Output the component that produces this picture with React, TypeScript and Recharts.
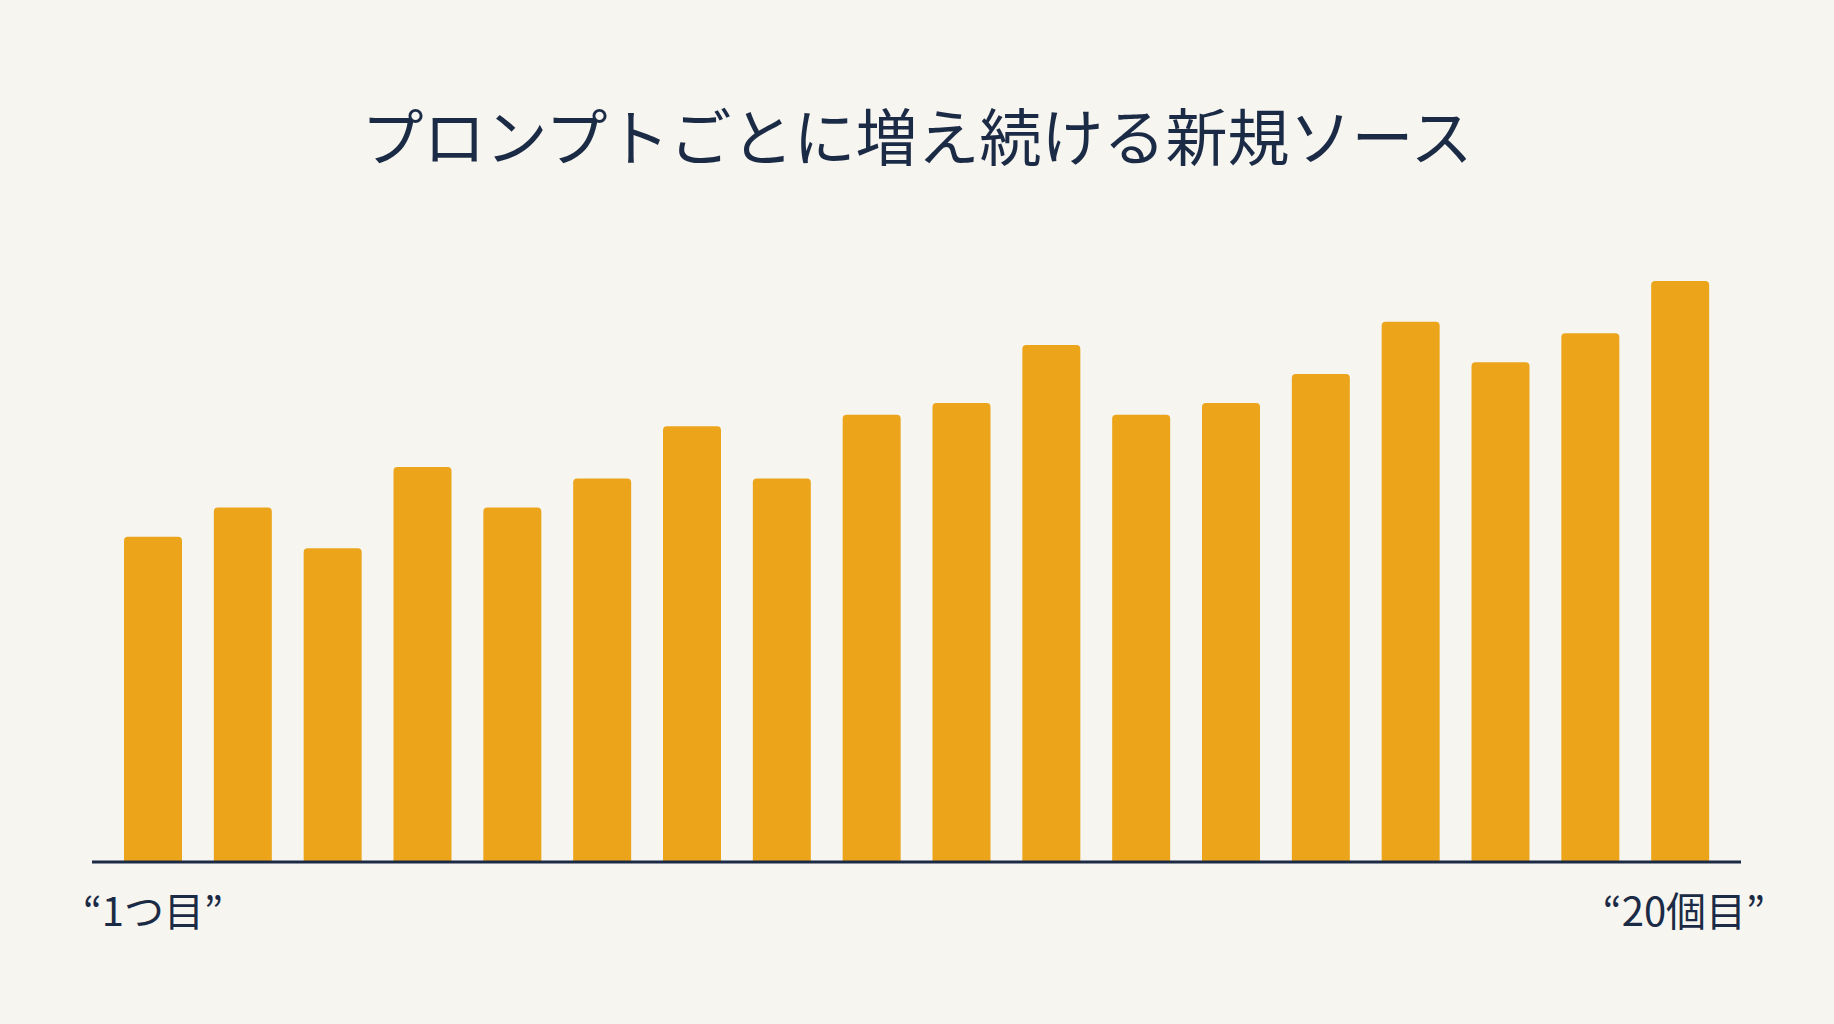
import { BarChart, Bar, XAxis, YAxis } from 'recharts';

// プロンプト番号ごとの新規ソース数（画像から読み取った推定値）
const prompts = ['1', '2', '3', '4', '5', '6', '7', '8', '9', '10', '11', '12', '13', '14', '15', '16', '17', '18'];
const newSources = [56, 61, 54, 68, 61, 66, 75, 66, 77, 79, 89, 77, 79, 84, 93, 86, 91, 100];
const edgeLabels = ['“1つ目”', '“20個目”'];

const NAVY = '#1b2a45';
const GOLD = '#eca51b';
const BG = '#f6f5f0';
const FONT = '"Noto Sans CJK JP", "Noto Sans", sans-serif';

const data = prompts.map((p, i) => ({ prompt: p, value: newSources[i] }));

const EdgeTick = (props: any) => {
  const { x, y, payload } = props;
  const first = payload.value === prompts[0];
  return (
    <text
      x={first ? x - 70 : x + 85}
      y={y + 47}
      textAnchor={first ? 'start' : 'end'}
      dominantBaseline="central"
      fill={NAVY}
      fontSize={40}
      fontFamily={FONT}
    >
      {first ? edgeLabels[0] : edgeLabels[1]}
    </text>
  );
};

const App = () => {
  return (
    <div
      style={{
        position: 'absolute',
        left: 0,
        top: 0,
        width: 1834,
        height: 1024,
        background: BG,
        fontFamily: FONT,
      }}
    >
      <div
        style={{
          position: 'absolute',
          top: 97,
          left: 0,
          width: 1834,
          textAlign: 'center',
          fontSize: 62,
          lineHeight: '74px',
          color: NAVY,
        }}
      >
        プロンプトごとに増え続ける新規ソース
      </div>
      <BarChart
        width={1834}
        height={1024}
        data={data}
        margin={{ top: 281, right: 93, bottom: 102, left: 92 }}
        barCategoryGap={16}
      >
        <YAxis hide domain={[0, 100]} />
        <XAxis
          dataKey="prompt"
          height={60}
          ticks={[prompts[0], prompts[prompts.length - 1]]}
          interval={0}
          tickLine={false}
          tickSize={0}
          tickMargin={0}
          padding={{ left: 16, right: 16 }}
          axisLine={{ stroke: NAVY, strokeWidth: 3 }}
          tick={<EdgeTick />}
        />
        <Bar dataKey="value" fill={GOLD} radius={[4, 4, 0, 0]} isAnimationActive={false} />
      </BarChart>
    </div>
  );
};

export default App;
